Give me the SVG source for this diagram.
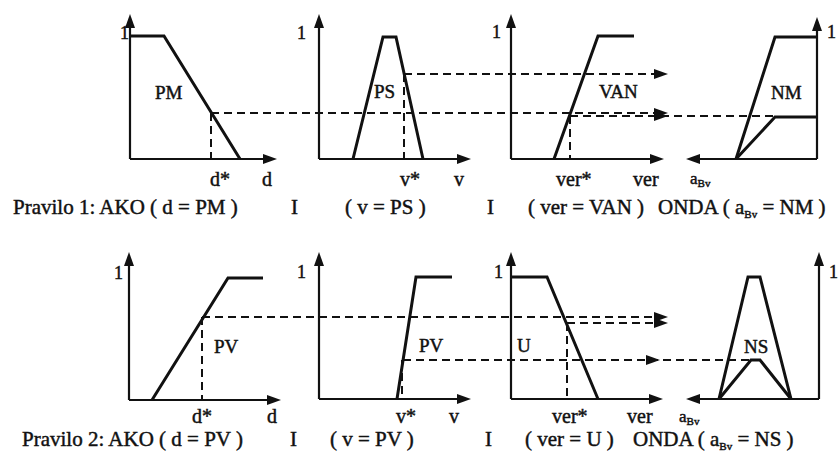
<svg xmlns="http://www.w3.org/2000/svg" width="838" height="451" viewBox="0 0 838 451">
<style>
.ax{fill:none;stroke:#111;stroke-width:2.2}
.mf{fill:none;stroke:#111;stroke-width:3;stroke-linejoin:miter}
.dash{fill:none;stroke:#111;stroke-width:2;stroke-dasharray:8 5}
.ah{fill:#111}
text{font-family:"Liberation Serif","Times New Roman",serif;fill:#111;stroke:#111;stroke-width:0.45}
.row{font-size:21px}
.lbl{font-size:20px}
.one{font-size:18px}
.set{font-size:19px}
.sub{font-size:11px}
</style>
<defs>
<path id="ah" d="M0,0 L-14,-5 L-14,5 Z"/>
</defs>
<rect width="838" height="451" fill="#fff"/>

<!-- Rule 1 -->
<g id="r1-d">
<path class="ax" d="M130,159 V26 M130,159 H264"/>
<use href="#ah" class="ah" transform="translate(130,14) rotate(-90)"/>
<use href="#ah" class="ah" transform="translate(277,159)"/>
<path class="mf" d="M130,36 H164 L240,159"/>
<text class="one" x="120" y="39">1</text>
<text class="set" x="155" y="99">PM</text>
<text class="lbl" x="210" y="186">d*</text>
<text class="lbl" x="262" y="186">d</text>
</g>
<g id="r1-v">
<path class="ax" d="M319,159 V26 M319,159 H458"/>
<use href="#ah" class="ah" transform="translate(319,14) rotate(-90)"/>
<use href="#ah" class="ah" transform="translate(471,159)"/>
<path class="mf" d="M353,159 L383,37 H396 L423,159"/>
<text class="one" x="297" y="39">1</text>
<text class="set" x="374" y="98">PS</text>
<text class="lbl" x="400" y="186">v*</text>
<text class="lbl" x="454" y="186">v</text>
</g>
<g id="r1-ver">
<path class="ax" d="M511,159 V26 M511,159 H651"/>
<use href="#ah" class="ah" transform="translate(511,14) rotate(-90)"/>
<use href="#ah" class="ah" transform="translate(664,159)"/>
<path class="mf" d="M554,159 L598,36 H634"/>
<text class="one" x="492" y="38">1</text>
<text class="set" x="599" y="98">VAN</text>
<text class="lbl" x="556" y="186">ver*</text>
<text class="lbl" x="633" y="186">ver</text>
</g>
<g id="r1-a">
<path class="ax" d="M817,159 V29 M817,159 H699"/>
<use href="#ah" class="ah" transform="translate(817,17) rotate(-90)"/>
<use href="#ah" class="ah" transform="translate(686,159) rotate(180)"/>
<path class="mf" d="M736,159 L775,37 H817"/>
<path class="mf" d="M736,159 L775,117 H817"/>
<text class="one" x="827" y="38">1</text>
<text class="set" x="771" y="99">NM</text>
<text x="690" y="184" style="font-size:17px">a<tspan class="sub" dy="3">Bv</tspan></text>
</g>

<!-- Rule 2 -->
<g id="r2-d">
<path class="ax" d="M129,400 V265 M129,400 H267"/>
<use href="#ah" class="ah" transform="translate(129,252) rotate(-90)"/>
<use href="#ah" class="ah" transform="translate(281,400)"/>
<path class="mf" d="M152,400 L228,278 H263"/>
<text class="one" x="114" y="279">1</text>
<text class="set" x="214" y="353">PV</text>
<text class="lbl" x="192" y="423">d*</text>
<text class="lbl" x="267" y="423">d</text>
</g>
<g id="r2-v">
<path class="ax" d="M319,399 V265 M319,399 H458"/>
<use href="#ah" class="ah" transform="translate(319,252) rotate(-90)"/>
<use href="#ah" class="ah" transform="translate(471,399)"/>
<path class="mf" d="M397,399 L416,277 H452"/>
<text class="one" x="297" y="278">1</text>
<text class="set" x="419" y="352">PV</text>
<text class="lbl" x="396" y="423">v*</text>
<text class="lbl" x="449" y="423">v</text>
</g>
<g id="r2-ver">
<path class="ax" d="M511,399 V265 M511,399 H650"/>
<use href="#ah" class="ah" transform="translate(511,252) rotate(-90)"/>
<use href="#ah" class="ah" transform="translate(663,399)"/>
<path class="mf" d="M511,277 H547 L598,399"/>
<text class="one" x="494" y="278">1</text>
<text class="set" x="517" y="352">U</text>
<text class="lbl" x="552" y="423">ver*</text>
<text class="lbl" x="627" y="423">ver</text>
</g>
<g id="r2-a">
<path class="ax" d="M819,399 V265 M819,399 H699"/>
<use href="#ah" class="ah" transform="translate(819,252) rotate(-90)"/>
<use href="#ah" class="ah" transform="translate(686,399) rotate(180)"/>
<path class="mf" d="M719,399 L748,277 H760 L791,399"/>
<path class="mf" d="M719,399 L751,360 H760 L791,399"/>
<text class="one" x="829" y="278">1</text>
<text class="set" x="744" y="353">NS</text>
<text x="679" y="422" style="font-size:17px">a<tspan class="sub" dy="3">Bv</tspan></text>
</g>

<!-- connectors -->
<g id="connectors">
<path class="dash" d="M211,113 H656 M211,113 V159"/>
<use href="#ah" class="ah" transform="translate(668,113)"/>
<path class="dash" d="M404,74 H656 M404,74 V159"/>
<use href="#ah" class="ah" transform="translate(668,74)"/>
<path class="dash" d="M570,116 H775 M570,116 V159"/>
<use href="#ah" class="ah" transform="translate(668,116)"/>

<path class="dash" d="M202,317 H656 M202,317 V400"/>
<use href="#ah" class="ah" transform="translate(668,317)"/>
<path class="dash" d="M567,323 H656 M567,323 V399"/>
<use href="#ah" class="ah" transform="translate(668,323)"/>
<path class="dash" d="M403,360 H751 M402,360 V399"/>
<use href="#ah" class="ah" transform="translate(660,360)"/>
</g>

<!-- rule texts -->
<g id="rule1-text" class="row">
<text class="row" x="13" y="214">Pravilo 1: AKO ( d = PM )</text>
<text class="row" x="291" y="214">I</text>
<text class="row" x="345" y="214">( v = PS )</text>
<text class="row" x="487" y="214">I</text>
<text class="row" x="528" y="214">( ver = VAN )</text>
<text class="row" x="658" y="214">ONDA ( a<tspan class="sub" dy="4">Bv</tspan><tspan dy="-4"> = NM )</tspan></text>
</g>
<g id="rule2-text" class="row">
<text class="row" x="22" y="446">Pravilo 2: AKO ( d = PV )</text>
<text class="row" x="290" y="446">I</text>
<text class="row" x="330" y="446">( v = PV )</text>
<text class="row" x="485" y="446">I</text>
<text class="row" x="525" y="446">( ver = U  )</text>
<text class="row" x="633" y="446">ONDA ( a<tspan class="sub" dy="4">Bv</tspan><tspan dy="-4"> = NS )</tspan></text>
</g>
</svg>
